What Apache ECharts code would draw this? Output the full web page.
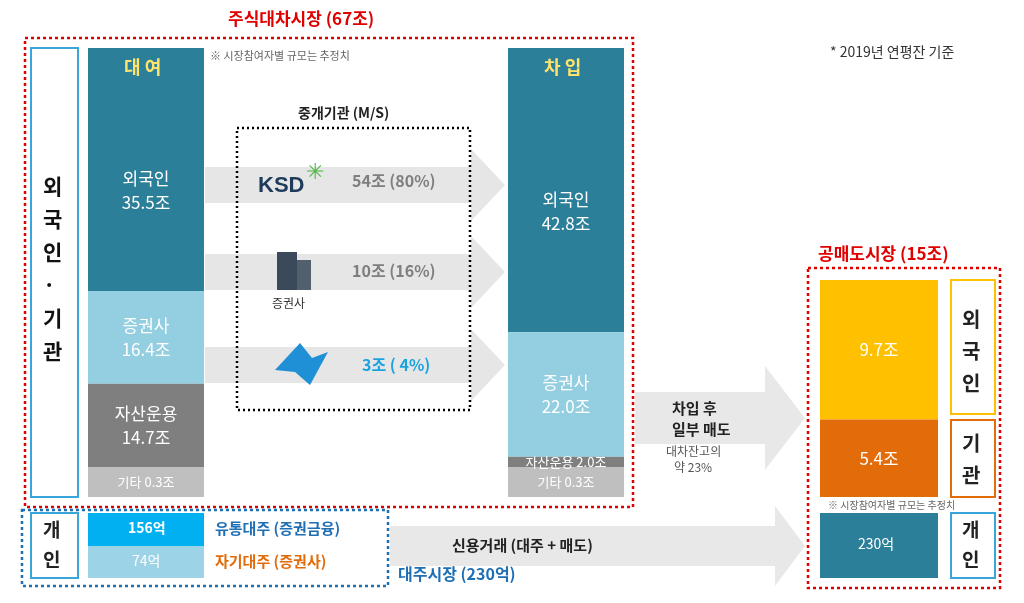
<!DOCTYPE html>
<html><head><meta charset="utf-8">
<script src="https://cdn.jsdelivr.net/npm/echarts@6/dist/echarts.min.js"></script>
<style>html,body{margin:0;background:#fff}#c{width:1024px;height:603px}</style>
</head><body><div id="c"></div>
<script>
// 대여 / 차입 / 공매도 (조), 대주 (억)
const lendNames = ['외국인', '증권사', '자산운용'];
const lendValues = [35.5, 16.4, 14.7];
const borrowValues = [42.8, 22.0, 2.0];
const etcName = '기타';
const lendEtc = 0.3;
const borrowEtc = 0.3;
const shortNames = ['외국인', '기관'];
const shortValues = [9.7, 5.4];
const brokerLabels = ['54조 (80%)', '10조 (16%)', '3조 ( 4%)'];
const stockLoanNames = ['유통대주 (증권금융)', '자기대주 (증권사)'];
const stockLoanValues = [156, 74];
const retailShort = 230;

const FONT = '"Noto Sans CJK KR", "Noto Sans", sans-serif';
const segColors = ['#2c7f98', '#93cfe1', '#7f7f7f'];
const etcColor = '#bfbfbf';
const shortColors = ['#ffc000', '#e36c0a'];

const chart = echarts.init(document.getElementById('c'));

function stackSeries(values, gridIdx, colors, names, unit) {
  return values.map((v, i) => {
    const small = v / maxes[gridIdx] < 0.05;
    return {
      type: 'bar', stack: 's' + gridIdx, xAxisIndex: gridIdx, yAxisIndex: gridIdx,
      data: [v], barWidth: '100%', itemStyle: { color: colors[i] },
      label: {
        show: true, position: 'inside', fontFamily: FONT, color: '#fff',
        fontSize: small ? 13 : 17, lineHeight: 24,
        formatter: small ? names[i] + ' ' + v.toFixed(1) + unit
          : (names[i] ? names[i] + '\n' : '') + v.toFixed(1) + unit
      }
    };
  });
}
function etcSeries(v, gridIdx) {
  return {
    type: 'bar', xAxisIndex: gridIdx, yAxisIndex: gridIdx, data: [v], barWidth: '100%',
    itemStyle: { color: etcColor },
    label: { show: true, position: 'inside', color: '#fff', fontSize: 13, fontFamily: FONT, formatter: etcName + ' ' + v.toFixed(1) + '조' }
  };
}

const grids = [
  { left: 88, width: 116, top: 90, height: 377 },
  { left: 508, width: 116, top: 90, height: 377 },
  { left: 820, width: 118, top: 280, height: 217 },
  { left: 88, width: 116, top: 467, height: 30 },
  { left: 508, width: 116, top: 467, height: 30 }
];
const maxes = [66.6, 66.6, 15.1, lendEtc, borrowEtc];

function vtext(s) { return s.split('').join('\n'); }
const lbl = (x, y, text, o) => ({ type: 'text', left: x, top: y, style: Object.assign({ text, fontFamily: FONT, fontSize: 14, fill: '#222' }, o || {}) });
const rect = (x, y, w, h, s) => ({ type: 'rect', shape: { x, y, width: w, height: h }, style: s });
const arrow = (x1, x2, yc, h, head, color) => ({
  type: 'polygon', shape: { points: [[x1, yc - h / 2], [x2 - head, yc - h / 2], [x2 - head, yc - h], [x2, yc], [x2 - head, yc + h], [x2 - head, yc + h / 2], [x1, yc + h / 2]] },
  style: { fill: color }
});

const graphics = [
  arrow(205, 505, 185, 36, 34, '#e6e6e6'),
  arrow(205, 505, 272, 36, 34, '#e6e6e6'),
  arrow(205, 505, 365, 36, 34, '#e6e6e6'),
  arrow(635, 805, 418, 52, 40, '#e8e8e8'),
  arrow(390, 805, 546, 40, 30, '#e8e8e8'),
  rect(25, 38, 608, 469, { fill: null, stroke: '#e00000', lineWidth: 2.5, lineDash: [3, 3] }),
  rect(808, 268, 192, 320, { fill: null, stroke: '#e00000', lineWidth: 2.5, lineDash: [3, 3] }),
  rect(22, 510, 366, 76, { fill: null, stroke: '#1f6fb5', lineWidth: 2.5, lineDash: [3, 3] }),
  rect(237, 128, 233, 282, { fill: null, stroke: '#000', lineWidth: 2.5, lineDash: [2, 3] }),
  lbl(228, 10, '주식대차시장 (67조)', { fill: '#e00000', fontSize: 17, fontWeight: 'bold' }),
  lbl(818, 245, '공매도시장 (15조)', { fill: '#e00000', fontSize: 17, fontWeight: 'bold' }),
  lbl(398, 566, '대주시장 (230억)', { fill: '#1f6fb5', fontSize: 16, fontWeight: 'bold' }),
  lbl(298, 106, '중개기관 (M/S)', { fontSize: 14, fontWeight: 'bold' }),
  lbl(210, 50, '※ 시장참여자별 규모는 추정치', { fontSize: 11, fill: '#666' }),
  lbl(830, 45, '* 2019년 연평잔 기준', { fontSize: 14, fill: '#333' }),
  rect(31, 48, 47, 449, { fill: '#fff', stroke: '#3aa5d8', lineWidth: 2 }),
  lbl(43, 170, vtext('외국인') + '\n·\n' + vtext('기관'), { fontSize: 21, fontWeight: 'bold', lineHeight: 33, fill: '#111', align: 'center', x: 11 }),
  rect(31, 513, 47, 65, { fill: '#fff', stroke: '#3aa5d8', lineWidth: 2 }),
  lbl(43, 515, vtext('개인'), { fontSize: 19, fontWeight: 'bold', lineHeight: 30 }),
  rect(88, 48, 116, 43, { fill: segColors[0] }),
  lbl(124, 58, '대 여', { fill: '#ffe36b', fontSize: 18, fontWeight: 'bold' }),
  rect(508, 48, 116, 43, { fill: segColors[0] }),
  lbl(544, 58, '차 입', { fill: '#ffe36b', fontSize: 18, fontWeight: 'bold' }),
  lbl(258, 175, 'KSD', { fontSize: 22, fontWeight: 'bold', fill: '#1f3b5a', fontFamily: 'Liberation Sans' }),
  lbl(306, 160, '✳', { fontSize: 22, fill: '#4fb848' }),
  rect(277, 252, 20, 38, { fill: '#3b4a5a' }),
  rect(297, 260, 14, 30, { fill: '#52606e' }),
  lbl(272, 297, '증권사', { fontSize: 12, fill: '#333' }),
  { type: 'polygon', shape: { points: [[275, 370], [300, 343], [312, 358], [328, 352], [310, 385], [295, 372]] }, style: { fill: '#1f8fd6' } },
  lbl(352, 173, brokerLabels[0], { fontSize: 16, fontWeight: 'bold', fill: '#7f7f7f' }),
  lbl(352, 263, brokerLabels[1], { fontSize: 16, fontWeight: 'bold', fill: '#7f7f7f' }),
  lbl(362, 357, brokerLabels[2], { fontSize: 16, fontWeight: 'bold', fill: '#1aa3e0' }),
  lbl(672, 398, '차입 후\n일부 매도', { fontSize: 15, fontWeight: 'bold', lineHeight: 21 }),
  lbl(666, 443, '대차잔고의\n   약 23%', { fontSize: 12, fill: '#555', lineHeight: 16 }),
  lbl(452, 538, '신용거래 (대주 + 매도)', { fontSize: 15, fontWeight: 'bold', fill: '#222' }),
  rect(951, 280, 44, 134, { fill: '#fff', stroke: '#ffc000', lineWidth: 2 }),
  lbl(962, 303, vtext(shortNames[0]), { fontSize: 20, fontWeight: 'bold', lineHeight: 32 }),
  rect(951, 420, 44, 77, { fill: '#fff', stroke: '#e36c0a', lineWidth: 2 }),
  lbl(962, 427, vtext(shortNames[1]), { fontSize: 20, fontWeight: 'bold', lineHeight: 32 }),
  lbl(828, 500, '※ 시장참여자별 규모는 추정치', { fontSize: 10, fill: '#666' }),
  rect(820, 513, 118, 65, { fill: segColors[0] }),
  lbl(858, 537, retailShort + '억', { fontSize: 14, fill: '#fff' }),
  rect(951, 513, 44, 65, { fill: '#fff', stroke: '#3aa5d8', lineWidth: 2 }),
  lbl(962, 515, vtext('개인'), { fontSize: 19, fontWeight: 'bold', lineHeight: 30 }),
  rect(88, 513, 116, 33, { fill: '#00b0f0' }),
  lbl(128, 521, stockLoanValues[0] + '억', { fontSize: 14, fill: '#fff', fontWeight: 'bold' }),
  rect(88, 546, 116, 32, { fill: '#9dd3e6' }),
  lbl(132, 554, stockLoanValues[1] + '억', { fontSize: 14, fill: '#fff' }),
  lbl(215, 521, stockLoanNames[0], { fontSize: 15, fontWeight: 'bold', fill: '#1f6fb5' }),
  lbl(215, 554, stockLoanNames[1], { fontSize: 15, fontWeight: 'bold', fill: '#e36c0a' })
];

chart.setOption({
  animation: false,
  grid: grids,
  xAxis: grids.map((g, i) => ({ type: 'category', gridIndex: i, data: [''], show: false })),
  yAxis: grids.map((g, i) => ({ type: 'value', gridIndex: i, inverse: true, min: 0, max: maxes[i], show: false })),
  series: [
    ...stackSeries(lendValues, 0, segColors, lendNames, '조'),
    ...stackSeries(borrowValues, 1, segColors, lendNames, '조'),
    ...stackSeries(shortValues, 2, shortColors, ['', ''], '조'),
    etcSeries(lendEtc, 3),
    etcSeries(borrowEtc, 4)
  ],
  graphic: graphics
});
</script></body></html>
